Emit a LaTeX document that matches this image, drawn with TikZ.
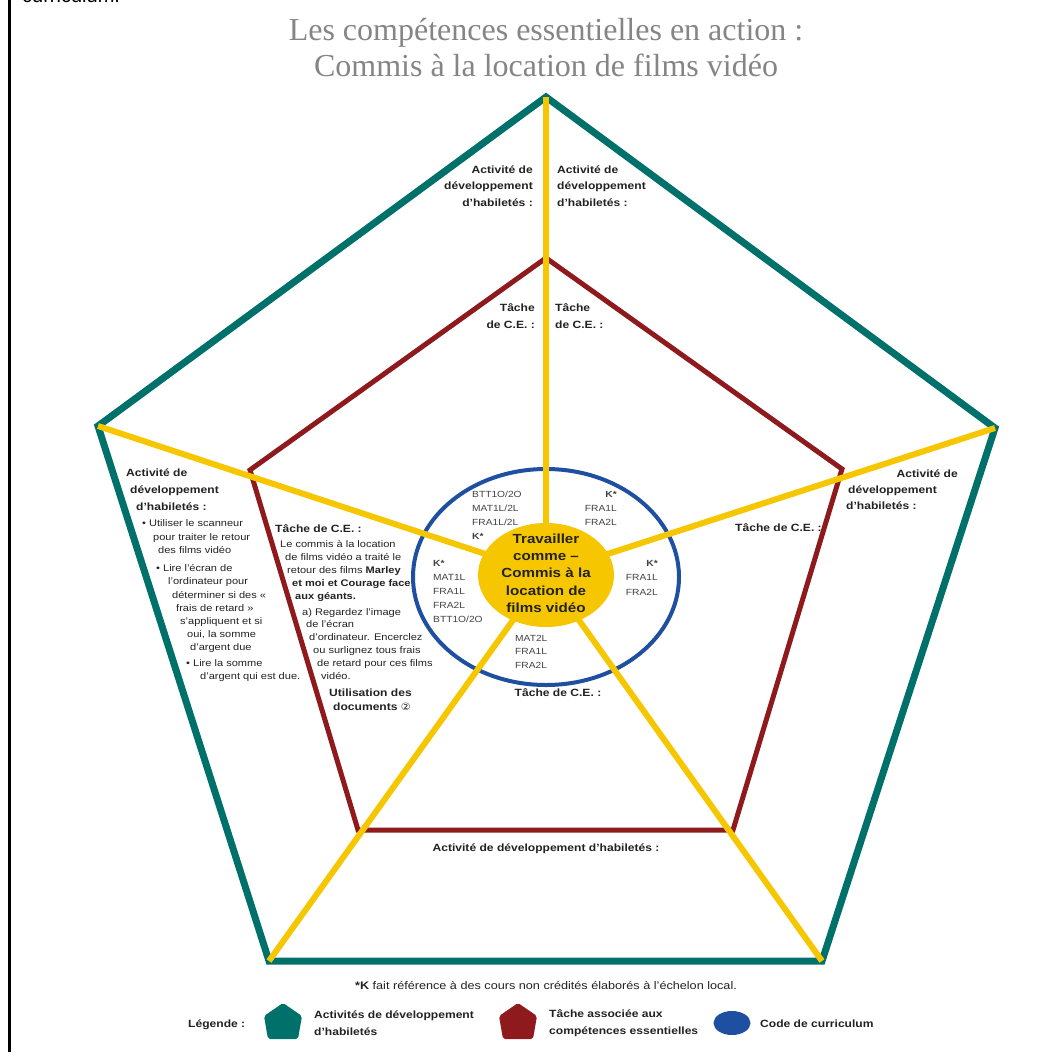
\documentclass[tikz,border=0pt]{standalone}
\usepackage{fontspec}
\setmainfont[FakeStretch=1.15]{Liberation Sans}
\newfontfamily\plainfont{Liberation Sans}
\newfontfamily\titlefont{Liberation Serif}
\newfontfamily\symfont[FakeStretch=1.1]{DejaVu Sans}
\usetikzlibrary{shapes.geometric}
\definecolor{tealc}{HTML}{00706A}
\definecolor{redc}{HTML}{8E1A1E}
\definecolor{yelc}{HTML}{F6C700}
\definecolor{bluc}{HTML}{1F4FA0}
\definecolor{txtc}{HTML}{222222}
\definecolor{ttlc}{HTML}{858585}
\tikzset{
  outerline/.style={draw=tealc, line width=7pt, line join=miter},
  innerline/.style={draw=redc, line width=5pt, line join=miter},
  spoke/.style={draw=yelc, line width=6pt},
  bl/.style={font=\fontsize{10.5}{16.5}\selectfont\bfseries, text=txtc, inner sep=0pt},
  rg/.style={font=\fontsize{9.6}{12}\selectfont, text=txtc, inner sep=0pt},
  cd/.style={font=\fontsize{8.9}{12}\selectfont, text=txtc!85, inner sep=0pt},
}
\begin{document}
\begin{tikzpicture}[x=1pt,y=-1pt]
\useasboundingbox (0,0) rectangle (1038,1057);
% frame remnants
\draw[black, line width=3pt] (9.5,0) -- (9.5,1052);
\node[font=\plainfont\fontsize{20}{24}\selectfont, anchor=base west, inner sep=0pt] (cut) at (22,3) {curriculum.};
% title
\node[font=\titlefont\fontsize{32}{36}\selectfont, text=ttlc, align=center, inner sep=0pt] (title) at (546,48)
  {Les compétences essentielles en action :\\Commis à la location de films vidéo};
% vertices
\coordinate (O1) at (546,97);
\coordinate (O2) at (995,428);
\coordinate (O3) at (822,961);
\coordinate (O4) at (269,961);
\coordinate (O5) at (98,426);
\coordinate (I1) at (546,258);
\coordinate (I2) at (842,469);
\coordinate (I3) at (733,830);
\coordinate (I4) at (358,830);
\coordinate (I5) at (250,470);
\coordinate (C) at (546,574);
\draw[outerline] (O1) -- (O2) -- (O3) -- (O4) -- (O5) -- cycle;
\draw[innerline] (I1) -- (I2) -- (I3) -- (I4) -- (I5) -- cycle;
\draw[draw=bluc, line width=4pt] (546,577) ellipse [x radius=133pt, y radius=108pt];
\foreach \v in {O1,O2,O3,O4,O5} \draw[spoke] (C) -- (\v);
\fill[yelc] (546,575) ellipse [x radius=68pt, y radius=52pt];
\node[font=\fontsize{13.2}{17.3}\selectfont\bfseries, text=txtc, align=center, inner sep=0pt] (ctr) at (546,573)
  {Travailler\\comme –\\Commis à la\\location de\\films vidéo};
% top labels
\node[bl, align=right, anchor=east] (actTL) at (533,186) {Activité de\\développement\\d'habiletés :};
\node[bl, align=left, anchor=west] (actTR) at (557,186) {Activité de\\développement\\d'habiletés :};
\node[bl, align=right, anchor=east] (tacTL) at (535,316) {Tâche\\de C.E. :};
\node[bl, align=left, anchor=west] (tacTR) at (555,316) {Tâche\\de C.E. :};
% left activity
\node[bl, anchor=base west] (la1) at (126,476) {Activité de};
\node[bl, anchor=base west] (la2) at (130,493) {développement};
\node[bl, anchor=base west] (la3) at (136,510) {d'habiletés :};
\foreach \x/\y/\t [count=\i] in {142/526/• Utiliser le scanneur, 153/540/pour traiter le retour, 158/553/des films vidéo,
  156/571/• Lire l'écran de, 168/584/l'ordinateur pour, 172/598/déterminer si des «, 176/611/frais de retard »,
  180/624/s'appliquent et si, {187/637/oui, la somme}, 190/650/d'argent due, 186/666/• Lire la somme, 200/679/d'argent qui est due.}
  \node[rg, anchor=base west] (lb\i) at (\x,\y) {\t};
% left task
\node[bl, anchor=base west] (lt0) at (275,532) {Tâche de C.E. :};
\foreach \x/\y/\t [count=\i] in {280/547/Le commis à la location, 285/560/de films vidéo a traité le,
  287/573/retour des films \textbf{Marley}, 292/586/\textbf{et moi et Courage face}, 295/599/\textbf{aux géants.},
  302/615/a) Regardez l'image, 306/627/de l'écran, 309/640/d'ordinateur. Encerclez, 313/653/ou surlignez tous frais,
  317/666/de retard pour ces films, 321/679/vidéo.}
  \node[rg, anchor=base west] (lt\i) at (\x,\y) {\t};
\node[bl, anchor=base west] (lu1) at (329,696) {Utilisation des};
\node[bl, anchor=base west] (lu2) at (333,710) {documents {\symfont\mdseries\fontsize{10}{12}\selectfont ②}};
% right labels
\node[bl, anchor=base east] (ra1) at (958,477) {Activité de};
\node[bl, anchor=base west] (ra2) at (848,493) {développement};
\node[bl, anchor=base west] (ra3) at (846,509) {d'habiletés :};
\node[bl, anchor=base west] (rt) at (735,531) {Tâche de C.E. :};
% bottom labels
\node[bl, anchor=base] (bt) at (558,696) {Tâche de C.E. :};
\node[bl, anchor=base] (ba) at (546,851) {Activité de développement d'habiletés :};
% curriculum codes
\foreach \t [count=\i from 0] in {BTT1O/2O, MAT1L/2L, FRA1L/2L, \textbf{K*}}
  \node[cd, anchor=base west] (cul\i) at (472,{497+14*\i}) {\t};
\foreach \t [count=\i from 0] in {\textbf{K*}, FRA1L, FRA2L}
  \node[cd, anchor=base east] (cur\i) at (617,{497+14*\i}) {\t};
\foreach \t [count=\i from 0] in {\textbf{K*}, MAT1L, FRA1L, FRA2L, BTT1O/2O}
  \node[cd, anchor=base west] (cl\i) at (433,{566+14*\i}) {\t};
\foreach \t [count=\i from 0] in {\textbf{K*}, FRA1L, FRA2L}
  \node[cd, anchor=base east] (cr\i) at (658,{566+14.5*\i}) {\t};
\foreach \t [count=\i from 0] in {MAT2L, FRA1L, FRA2L}
  \node[cd, anchor=base west] (cb\i) at (515,{641+13.5*\i}) {\t};
% footnote
\node[font=\fontsize{11}{12}\selectfont, text=txtc, anchor=base, inner sep=0pt] (foot) at (546,989)
  {\textbf{*K} fait référence à des cours non crédités élaborés à l'échelon local.};
% legend
\node[bl, anchor=base west] (leg) at (188,1027) {Légende :};
\fill[tealc, rounded corners=2pt] (283,1003) -- (302,1016) -- (298,1039) -- (268,1039) -- (264,1016) -- cycle;
\fill[redc, rounded corners=2pt] (518,1003) -- (537,1016) -- (533,1039) -- (503,1039) -- (499,1016) -- cycle;
\fill[bluc] (732,1023) ellipse [x radius=18.5pt, y radius=12pt];
\node[bl, align=left, anchor=west] (leg1) at (314,1023) {Activités de développement\\d'habiletés};
\node[bl, align=left, anchor=west] (leg2) at (549,1023) {Tâche associée aux\\compétences essentielles};
\node[bl, anchor=base west] (leg3) at (760,1027) {Code de curriculum};
\end{tikzpicture}
\end{document}
